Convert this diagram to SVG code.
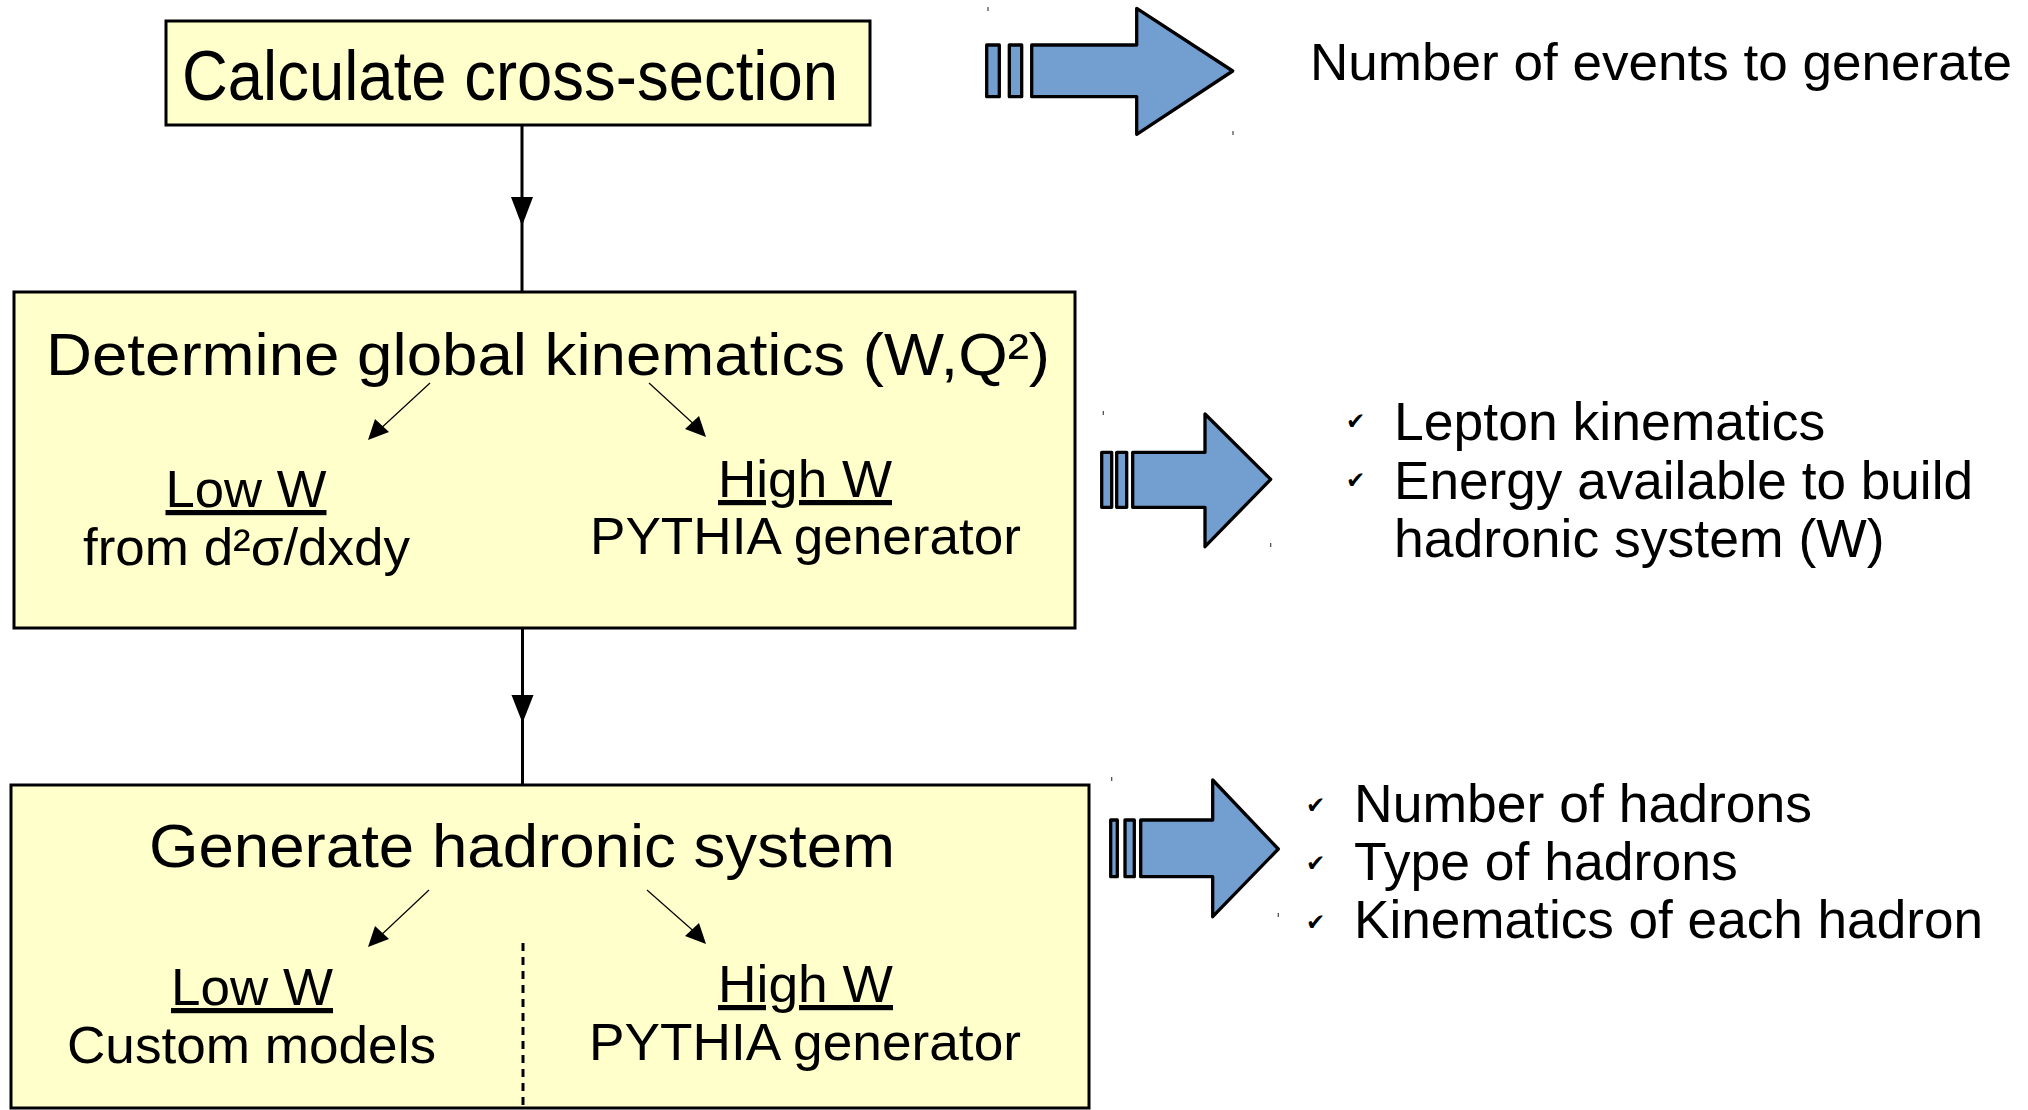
<svg xmlns="http://www.w3.org/2000/svg" width="2028" height="1110" viewBox="0 0 2028 1110">
<style>
.box{fill:#ffffcc;stroke:#000;stroke-width:3}
.t{font-family:"Liberation Sans",Arial,sans-serif;fill:#000}
.title{font-size:64px}
.sub{font-size:52px}
.side{font-size:53.5px}
.u{text-decoration:underline}
.big{fill:#729fcf;stroke:#000;stroke-width:3.3;stroke-linejoin:round}
.thin{stroke:#000;stroke-width:1.2;fill:none}
.conn{stroke:#000;stroke-width:3;fill:none}
.tick{stroke:#444;stroke-width:1.2}
.chk{font-family:"DejaVu Sans",sans-serif;font-size:23px;fill:#000}
</style>
<rect width="2028" height="1110" fill="#fff"/>
<g id="connectors">
<line class="conn" x1="522" y1="125" x2="522" y2="292"/>
<polygon points="511,197 533,197 522,226" fill="#000"/>
<line class="conn" x1="522.5" y1="628" x2="522.5" y2="785"/>
<polygon points="511.5,695 533.5,695 522.5,723" fill="#000"/>
</g>
<g id="node-calc">
<rect class="box" x="166" y="21" width="704" height="104"/>
<text class="t title" x="182" y="100" textLength="656" lengthAdjust="spacingAndGlyphs" style="font-size:71px">Calculate cross-section</text>
</g>
<g id="node-kin">
<rect class="box" x="14" y="292" width="1061" height="336"/>
<text class="t title" x="46" y="375" textLength="1004" lengthAdjust="spacingAndGlyphs" style="font-size:60px">Determine global kinematics (W,Q²)</text>
<line class="thin" x1="430" y1="383" x2="378" y2="431"/>
<polygon points="368,440 375,419 389,432" fill="#000"/>
<line class="thin" x1="649" y1="383" x2="698" y2="428"/>
<polygon points="706,437 685,429 699,416" fill="#000"/>
<text class="t sub u" x="165.5" y="507" textLength="161" lengthAdjust="spacingAndGlyphs">Low W</text>
<text class="t sub" x="83" y="565" textLength="327" lengthAdjust="spacingAndGlyphs">from d²σ/dxdy</text>
<text class="t sub u" x="718" y="497" textLength="174" lengthAdjust="spacingAndGlyphs">High W</text>
<text class="t sub" x="590" y="554" textLength="431" lengthAdjust="spacingAndGlyphs">PYTHIA generator</text>
</g>
<g id="node-had">
<rect class="box" x="11" y="785" width="1078" height="323"/>
<text class="t title" x="149" y="867" textLength="746" lengthAdjust="spacingAndGlyphs" style="font-size:62px">Generate hadronic system</text>
<line class="thin" x1="429" y1="890" x2="378" y2="938"/>
<polygon points="368,947 375,926 389,939" fill="#000"/>
<line class="thin" x1="647" y1="890" x2="698" y2="935"/>
<polygon points="706,944 685,936 699,923" fill="#000"/>
<line x1="523" y1="943" x2="523" y2="1110" stroke="#000" stroke-width="3" stroke-dasharray="8,6"/>
<text class="t sub u" x="171" y="1005" textLength="162" lengthAdjust="spacingAndGlyphs">Low W</text>
<text class="t sub" x="67" y="1063" textLength="369" lengthAdjust="spacingAndGlyphs">Custom models</text>
<text class="t sub u" x="718" y="1002" textLength="175" lengthAdjust="spacingAndGlyphs">High W</text>
<text class="t sub" x="589" y="1060" textLength="432" lengthAdjust="spacingAndGlyphs">PYTHIA generator</text>
</g>
<g id="arrow1">
<rect class="big" x="986.7" y="45" width="12.6" height="51.7"/>
<rect class="big" x="1009.3" y="45" width="12.4" height="51.7"/>
<polygon class="big" points="1031.7,45 1136.7,45 1136.7,8.3 1232.7,71 1136.7,134.3 1136.7,96.7 1031.7,96.7"/>
<line class="tick" x1="988" y1="7" x2="988" y2="11"/>
<line class="tick" x1="1233" y1="131" x2="1233" y2="135"/>
</g>
<g id="arrow2">
<rect class="big" x="1101.7" y="452.3" width="10" height="55"/>
<rect class="big" x="1116.7" y="452.3" width="10" height="55"/>
<polygon class="big" points="1132.7,452.3 1205,452.3 1205,414 1270.7,479.3 1205,546.7 1205,507.3 1132.7,507.3"/>
<line class="tick" x1="1103.3" y1="411" x2="1103.3" y2="415"/>
<line class="tick" x1="1270.7" y1="543" x2="1270.7" y2="547"/>
</g>
<g id="arrow3">
<rect class="big" x="1110.7" y="820" width="6.6" height="56.7"/>
<rect class="big" x="1125" y="820" width="9.3" height="56.7"/>
<polygon class="big" points="1140.7,820 1212.7,820 1212.7,780 1278.3,849 1212.7,916.7 1212.7,876.7 1140.7,876.7"/>
<line class="tick" x1="1111.7" y1="777" x2="1111.7" y2="781"/>
<line class="tick" x1="1278.3" y1="913" x2="1278.3" y2="917"/>
</g>
<g id="out1">
<text class="t sub" x="1310" y="80" textLength="702" lengthAdjust="spacingAndGlyphs">Number of events to generate</text>
</g>
<g id="out2">
<text class="chk" x="1346" y="429">✔</text>
<text class="chk" x="1346" y="488">✔</text>
<text class="t side" x="1394" y="440">Lepton kinematics</text>
<text class="t side" x="1394" y="499" textLength="579" lengthAdjust="spacingAndGlyphs">Energy available to build</text>
<text class="t side" x="1394" y="557">hadronic system (W)</text>
</g>
<g id="out3">
<text class="chk" x="1306" y="813">✔</text>
<text class="chk" x="1306" y="871">✔</text>
<text class="chk" x="1306" y="930">✔</text>
<text class="t side" x="1354" y="822">Number of hadrons</text>
<text class="t side" x="1354" y="880">Type of hadrons</text>
<text class="t side" x="1354" y="938" textLength="629" lengthAdjust="spacingAndGlyphs">Kinematics of each hadron</text>
</g>
</svg>
